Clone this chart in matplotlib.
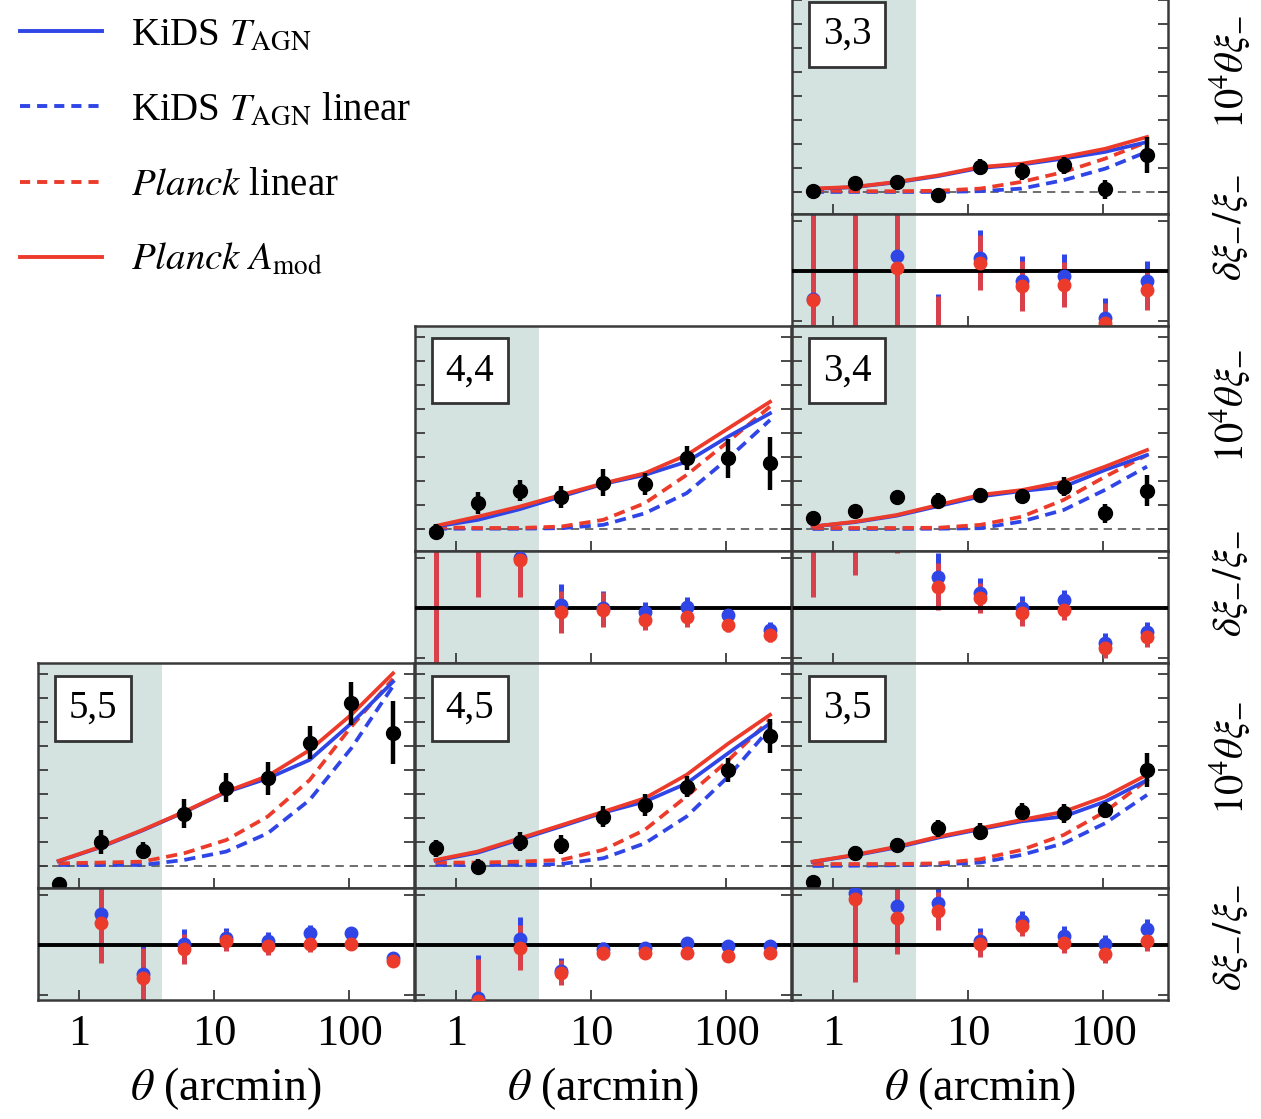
import numpy as np
import matplotlib
matplotlib.use('Agg')
import matplotlib.pyplot as plt
from matplotlib.lines import Line2D
from matplotlib.ticker import FixedLocator, NullLocator, MultipleLocator

plt.rcParams['font.family'] = ['Liberation Serif', 'DejaVu Serif']
plt.rcParams['mathtext.fontset'] = 'stix'

W, H = 1261, 1119
nan = np.nan

# angular bins (arcmin) and scale cut
theta = [0.71, 1.45, 2.96, 6.02, 12.3, 24.9, 50.8, 103, 210]
theta_cut = 4.1

panels = ['3,3', '3,4', '3,5', '4,4', '4,5', '5,5']

# 10^4 theta xi_- (measured), in tick units
xi_data = {
    '3,3': [0.03, 0.375, 0.42, -0.14, 1.04, 0.86, 1.11, 0.11, 1.56],
    '3,4': [0.44, 0.75, 1.32, 1.18, 1.42, 1.38, 1.76, 0.65, 1.6],
    '3,5': [-0.65, 0.53, 0.88, 1.57, 1.43, 2.26, 2.19, 2.33, 4.0],
    '4,4': [-0.11, 1.07, 1.6, 1.32, 1.93, 1.88, 2.94, 2.94, 2.74],
    '4,5': [0.74, -0.03, 1.01, 0.88, 2.06, 2.54, 3.31, 4.0, 5.42],
    '5,5': [-0.75, 1.01, 0.64, 2.17, 3.26, 3.65, 5.14, 6.78, 5.56],
}
xi_err = {
    '3,3': [0.25, 0.25, 0.25, 0.25, 0.35, 0.35, 0.35, 0.4, 0.75],
    '3,4': [0.2, 0.25, 0.25, 0.3, 0.3, 0.3, 0.4, 0.4, 0.65],
    '3,5': [0.2, 0.3, 0.3, 0.35, 0.35, 0.35, 0.4, 0.35, 0.7],
    '4,4': [0.3, 0.45, 0.45, 0.45, 0.55, 0.45, 0.5, 0.8, 1.1],
    '4,5': [0.35, 0.3, 0.4, 0.4, 0.45, 0.45, 0.45, 0.5, 0.7],
    '5,5': [0.3, 0.5, 0.35, 0.6, 0.6, 0.7, 0.7, 0.9, 1.3],
}

# models
kids_tagn = {
    '3,3': [0.12, 0.2, 0.4, 0.66, 1.0, 1.14, 1.39, 1.67, 2.08],
    '3,4': [0.1, 0.28, 0.55, 0.95, 1.35, 1.58, 1.76, 2.46, 3.08],
    '3,5': [0.17, 0.44, 0.77, 1.18, 1.53, 1.86, 2.06, 2.68, 3.58],
    '4,4': [0.1, 0.375, 0.82, 1.35, 1.875, 2.25, 2.8, 3.85, 4.82],
    '4,5': [0.22, 0.55, 1.1, 1.65, 2.22, 2.68, 3.44, 4.7, 5.94],
    '5,5': [0.2, 0.78, 1.48, 2.24, 3.08, 3.65, 4.42, 5.94, 7.68],
}
planck_amod = {
    '3,3': [0.14, 0.21, 0.42, 0.69, 1.04, 1.18, 1.46, 1.8, 2.29],
    '3,4': [0.1, 0.3, 0.58, 1.0, 1.42, 1.62, 1.97, 2.6, 3.29],
    '3,5': [0.18, 0.46, 0.8, 1.22, 1.57, 1.92, 2.26, 2.89, 3.8],
    '4,4': [0.125, 0.51, 0.93, 1.42, 1.9, 2.32, 3.08, 4.19, 5.3],
    '4,5': [0.25, 0.6, 1.15, 1.7, 2.26, 2.82, 3.8, 5.1, 6.3],
    '5,5': [0.21, 0.8, 1.5, 2.26, 3.1, 3.75, 4.83, 6.3, 8.03],
}
planck_lin = {
    '3,3': [0.07, 0.03, 0.03, 0.05, 0.14, 0.42, 0.83, 1.39, 2.08],
    '3,4': [0.04, 0.04, 0.04, 0.05, 0.17, 0.51, 1.21, 2.18, 3.08],
    '3,5': [0.08, 0.08, 0.08, 0.11, 0.28, 0.67, 1.29, 2.26, 3.58],
    '4,4': [0.07, 0.04, 0.04, 0.1, 0.38, 1.07, 2.25, 3.64, 5.1],
    '4,5': [0.14, 0.14, 0.18, 0.25, 0.67, 1.5, 2.9, 4.4, 6.1],
    '5,5': [0.11, 0.14, 0.18, 0.53, 1.08, 2.06, 3.58, 5.8, 7.8],
}
kids_lin = {
    '3,3': [0.0, 0.0, 0.0, 0.0, 0.03, 0.14, 0.49, 0.97, 1.67],
    '3,4': [0.0, 0.0, 0.0, 0.01, 0.03, 0.31, 0.79, 1.63, 2.6],
    '3,5': [0.0, 0.01, 0.03, 0.06, 0.14, 0.46, 0.94, 1.78, 2.96],
    '4,4': [0.01, 0.01, 0.01, 0.03, 0.17, 0.65, 1.49, 2.94, 4.54],
    '4,5': [0.04, 0.04, 0.04, 0.08, 0.32, 0.94, 2.06, 3.72, 5.74],
    '5,5': [0.04, 0.04, 0.04, 0.25, 0.6, 1.36, 2.75, 4.9, 7.5],
}

# residuals delta xi_- / xi_-
res_kids = {
    '3,3': [-0.55, -2.5, 0.3, -1.25, 0.27, -0.2, -0.1, -0.93, -0.2],
    '3,4': [1.62, 1.82, 1.72, 0.63, 0.3, 0.0, 0.17, -0.7, -0.47],
    '3,5': [nan, 1.05, 0.79, 0.85, 0.09, 0.49, 0.19, 0.02, 0.32],
    '4,4': [-1.5, 1.62, 1.0, 0.07, 0.0, -0.07, 0.03, -0.13, -0.43],
    '4,5': [nan, -1.05, 0.12, -0.51, -0.08, -0.05, 0.05, -0.01, -0.01],
    '5,5': [nan, 0.62, -0.58, 0.02, 0.15, 0.09, 0.25, 0.24, -0.25],
}
res_planck = {
    '3,3': [-0.57, -2.55, 0.07, -1.3, 0.17, -0.3, -0.27, -1.03, -0.37],
    '3,4': [1.6, 1.8, 1.7, 0.43, 0.2, -0.1, -0.03, -0.8, -0.57],
    '3,5': [nan, 0.92, 0.55, 0.69, 0.02, 0.39, 0.05, -0.18, 0.09],
    '4,4': [-1.5, 1.6, 0.97, -0.07, -0.03, -0.23, -0.17, -0.33, -0.53],
    '4,5': [nan, -1.12, -0.05, -0.55, -0.15, -0.15, -0.15, -0.21, -0.15],
    '5,5': [nan, 0.45, -0.65, -0.08, 0.09, -0.01, 0.02, 0.02, -0.31],
}
res_err = {
    '3,3': [1.7, 3.8, 1.6, 0.8, 0.55, 0.5, 0.45, 0.4, 0.4],
    '3,4': [1.37, 1.13, 0.6, 0.47, 0.3, 0.25, 0.2, 0.2, 0.2],
    '3,5': [nan, 1.65, 0.72, 0.38, 0.25, 0.2, 0.2, 0.18, 0.2],
    '4,4': [2.7, 1.37, 0.75, 0.42, 0.35, 0.2, 0.2, 0.15, 0.15],
    '4,5': [nan, 0.85, 0.45, 0.25, 0.15, 0.12, 0.12, 0.1, 0.1],
    '5,5': [nan, 0.8, 0.6, 0.3, 0.2, 0.18, 0.15, 0.12, 0.1],
}

legend_labels = [r'KiDS $T_{\rm AGN}$', r'KiDS $T_{\rm AGN}$ linear',
                 r'$Planck$ linear', r'$Planck$ $A_{\rm mod}$']

blue = '#2f45e6'
red = '#ec3b2b'
red_bar = '#d8404c'
shade = '#d5e3e0'
spine_c = '#3a3a3a'

# panel -> (column, row) in the triangle
grid_pos = {'3,3': (2, 0), '3,4': (2, 1), '3,5': (2, 2),
            '4,4': (1, 1), '4,5': (1, 2), '5,5': (0, 2)}
col_x = [38, 415, 792]
row_y = [-11, 326, 663]
pw, mh, rh = 376, 225, 112

fig = plt.figure(figsize=(W / 100, H / 100), dpi=100)


def px_axes(x, y, w, h):
    return fig.add_axes([x / W, 1 - (y + h) / H, w / W, h / H])


def style(ax, bottom_labels):
    ax.set_xscale('log')
    ax.set_xlim(0.5, 300)
    ax.axvspan(0.5, theta_cut, color=shade, lw=0, zorder=0)
    ax.xaxis.set_major_locator(FixedLocator([1, 10, 100]))
    ax.xaxis.set_minor_locator(NullLocator())
    ax.yaxis.set_minor_locator(NullLocator())
    ax.yaxis.set_major_locator(MultipleLocator(1))
    ax.tick_params(direction='in', length=7, width=1.3, color=spine_c,
                   left=True, right=True, top=False, labelleft=False,
                   labelbottom=bottom_labels, labelsize=32, pad=10)
    if bottom_labels:
        ax.set_xticklabels(['1', '10', '100'])
    for s in ax.spines.values():
        s.set_linewidth(1.8)
        s.set_color(spine_c)


for p in panels:
    c, r = grid_pos[p]
    last = r == 2
    ax = px_axes(col_x[c], row_y[r], pw, mh)
    rax = px_axes(col_x[c], row_y[r] + mh, pw, rh)
    style(ax, False)
    style(rax, last)
    ax.set_ylim(-0.92, 8.46)
    rax.set_ylim(-1.1, 1.15)

    ax.axhline(0, color='#555555', lw=1.2, ls=(0, (5, 3.5)), zorder=1)
    dash = (0, (3, 1.8))
    ax.plot(theta, kids_lin[p], color=blue, lw=2.7, ls=dash, zorder=2)
    ax.plot(theta, planck_lin[p], color=red, lw=2.7, ls=dash, zorder=2)
    ax.plot(theta, kids_tagn[p], color=blue, lw=2.7, zorder=3)
    ax.plot(theta, planck_amod[p], color=red, lw=2.7, zorder=3)
    ax.errorbar(theta, xi_data[p], yerr=xi_err[p], fmt='o', color='k',
                ms=10, elinewidth=3.2, capsize=0, zorder=5)
    ax.text(55 / pw, 1 - 45 / mh, p, transform=ax.transAxes, fontsize=28,
            ha='center', va='center', zorder=6,
            bbox=dict(boxstyle='square,pad=0.36', fc='white', ec='#333333', lw=2))

    rax.errorbar(theta, res_kids[p], yerr=res_err[p], fmt='none',
                 ecolor=blue, elinewidth=3.6, capsize=0, zorder=2)
    rax.errorbar(theta, res_planck[p], yerr=res_err[p], fmt='none',
                 ecolor=red_bar, elinewidth=3.6, capsize=0, zorder=2.5)
    rax.axhline(0, color='k', lw=2.8, zorder=3)
    rax.plot(theta, res_kids[p], 'o', color=blue, ms=9, zorder=4)
    rax.plot(theta, res_planck[p], 'o', color=red, ms=9, zorder=5)
    if last:
        rax.set_xlabel(r'$\theta$ (arcmin)', fontsize=33, labelpad=8)

# right-hand labels
for yc in [72, 406, 758]:
    fig.text(1230 / W, 1 - yc / H, r'$10^4\theta\xi_{-}$', rotation=90,
             ha='center', va='center', fontsize=29)
for yc in [228, 584, 938]:
    fig.text(1230 / W, 1 - yc / H, r'$\delta\xi_{-}/\xi_{-}$', rotation=90,
             ha='center', va='center', fontsize=29)

handles = [Line2D([], [], color=blue, lw=2.8),
           Line2D([], [], color=blue, lw=2.8, ls=(0, (2.6, 1.8))),
           Line2D([], [], color=red, lw=2.8, ls=(0, (2.6, 1.8))),
           Line2D([], [], color=red, lw=2.8)]
fig.legend(handles, legend_labels, loc='upper left',
           bbox_to_anchor=(20 / W, 1 - 17 / H), frameon=False, fontsize=28,
           handlelength=2.1, handletextpad=0.75, labelspacing=0.98,
           borderaxespad=0, borderpad=0)

fig.savefig('out.png', dpi=100)
